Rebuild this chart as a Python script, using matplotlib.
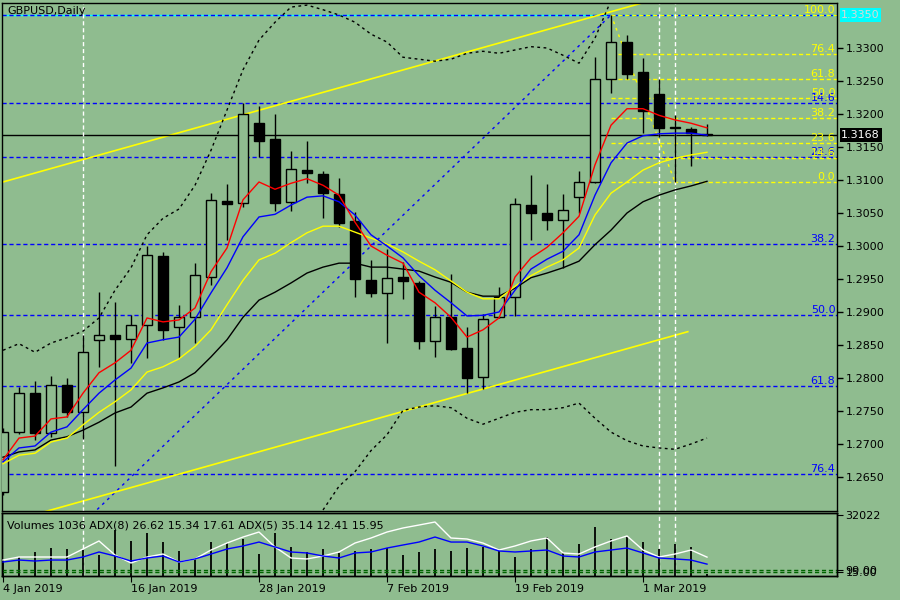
import numpy as np
import matplotlib.pyplot as plt
from matplotlib.transforms import blended_transform_factory

bg = '#8fbc8f'

# GBPUSD daily, 4 Jan 2019 .. 7 Mar 2019
opens = [1.2627, 1.2718, 1.2777, 1.2717, 1.2789, 1.2748, 1.2858, 1.2865, 1.2859, 1.2880,
         1.2985, 1.2877, 1.2892, 1.2953, 1.3068, 1.3065, 1.3186, 1.3162, 1.3067, 1.3115,
         1.3109, 1.3079, 1.3038, 1.2948, 1.2929, 1.2953, 1.2944, 1.2856, 1.2892, 1.2845,
         1.2802, 1.2892, 1.2923, 1.3062, 1.3050, 1.3039, 1.3074, 1.3097, 1.3253, 1.3309,
         1.3264, 1.3230, 1.3179, 1.3177, 1.3170]
highs = [1.2724, 1.2786, 1.2795, 1.2803, 1.2800, 1.2865, 1.2930, 1.2915, 1.2895, 1.3000,
         1.2991, 1.2911, 1.2974, 1.3080, 1.3094, 1.3217, 1.3212, 1.3200, 1.3144, 1.3159,
         1.3114, 1.3103, 1.3052, 1.2979, 1.2995, 1.2976, 1.2947, 1.2909, 1.2958, 1.2877,
         1.2897, 1.2938, 1.3073, 1.3108, 1.3094, 1.3079, 1.3114, 1.3286, 1.3350, 1.3320,
         1.3285, 1.3253, 1.3198, 1.3180, 1.3185]
lows = [1.2623, 1.2715, 1.2706, 1.2711, 1.2741, 1.2708, 1.2817, 1.2667, 1.2823, 1.2830,
        1.2858, 1.2830, 1.2853, 1.2941, 1.3009, 1.3059, 1.3135, 1.3053, 1.3053, 1.3095,
        1.3042, 1.3029, 1.2923, 1.2923, 1.2853, 1.2920, 1.2844, 1.2832, 1.2842, 1.2777,
        1.2783, 1.2891, 1.2894, 1.3009, 1.3024, 1.2967, 1.3050, 1.3095, 1.3232, 1.3253,
        1.3171, 1.3165, 1.3097, 1.3121, 1.3167]
closes = [1.2718, 1.2777, 1.2717, 1.2789, 1.2748, 1.2839, 1.2865, 1.2859, 1.2880, 1.2986,
          1.2873, 1.2892, 1.2956, 1.3070, 1.3064, 1.3200, 1.3159, 1.3065, 1.3117, 1.3111,
          1.3080, 1.3035, 1.2950, 1.2929, 1.2952, 1.2947, 1.2856, 1.2892, 1.2844, 1.2800,
          1.2889, 1.2923, 1.3064, 1.3050, 1.3039, 1.3055, 1.3097, 1.3253, 1.3309, 1.3261,
          1.3205, 1.3179, 1.3180, 1.3171, 1.3168]

# moving averages
ma_red = [1.2676, 1.2709, 1.2712, 1.2738, 1.2741, 1.2777, 1.2808, 1.2823, 1.2842, 1.2891,
          1.2885, 1.2888, 1.2906, 1.2961, 1.2997, 1.3070, 1.3097, 1.3086, 1.3095, 1.3102,
          1.3092, 1.3077, 1.3036, 1.3000, 1.2986, 1.2974, 1.2930, 1.2914, 1.2892, 1.2862,
          1.2873, 1.2891, 1.2953, 1.2982, 1.2998, 1.3020, 1.3045, 1.3123, 1.3183, 1.3208,
          1.3208, 1.3198, 1.3191, 1.3186, 1.3179]
ma_blue = [1.2673, 1.2694, 1.2697, 1.2718, 1.2726, 1.2752, 1.2777, 1.2797, 1.2815, 1.2853,
           1.2858, 1.2862, 1.2889, 1.2929, 1.2967, 1.3014, 1.3044, 1.3048, 1.3062, 1.3074,
           1.3076, 1.3067, 1.3047, 1.3017, 1.3000, 1.2982, 1.2955, 1.2933, 1.2914, 1.2894,
           1.2895, 1.2900, 1.2933, 1.2965, 1.2980, 1.2992, 1.3017, 1.3077, 1.3126, 1.3156,
           1.3167, 1.3170, 1.3171, 1.3171, 1.3168]
ma_yellow = [1.2670, 1.2683, 1.2686, 1.2703, 1.2709, 1.2729, 1.2748, 1.2764, 1.2782, 1.2809,
             1.2817, 1.2829, 1.2848, 1.2873, 1.2911, 1.2948, 1.2979, 1.2989, 1.3005, 1.3020,
             1.3030, 1.3030, 1.3021, 1.3012, 1.3003, 1.2991, 1.2977, 1.2964, 1.2947, 1.2930,
             1.2920, 1.2920, 1.2939, 1.2955, 1.2968, 1.2979, 1.2997, 1.3047, 1.3080, 1.3097,
             1.3115, 1.3126, 1.3133, 1.3138, 1.3142]
ma_black = [1.2680, 1.2688, 1.2691, 1.2706, 1.2711, 1.2721, 1.2733, 1.2747, 1.2756, 1.2777,
            1.2785, 1.2794, 1.2808, 1.2832, 1.2858, 1.2892, 1.2918, 1.2930, 1.2944, 1.2959,
            1.2968, 1.2974, 1.2974, 1.2968, 1.2968, 1.2965, 1.2962, 1.2953, 1.2945, 1.2930,
            1.2924, 1.2924, 1.2936, 1.2952, 1.2959, 1.2967, 1.2977, 1.3002, 1.3024, 1.3050,
            1.3067, 1.3077, 1.3085, 1.3091, 1.3098]

# bollinger bands (parts off the chart are left out)
nan = np.nan
bb_upper = [1.2842, 1.2852, 1.2839, 1.2853, 1.2861, 1.2871, 1.2891, 1.2933, 1.2967, 1.3017,
            1.3042, 1.3056, 1.3092, 1.3145, 1.3206, 1.3267, 1.3312, 1.3339, 1.3362, 1.3365,
            1.3358, 1.3350, 1.3339, 1.3321, 1.3309, 1.3286, 1.3283, 1.3280, 1.3283, 1.3292,
            1.3295, 1.3292, 1.3297, 1.3302, 1.3300, 1.3289, 1.3277, 1.3315, 1.3372, 1.3395,
            1.3405, 1.3410, 1.3412, 1.3410, 1.3405]
bb_lower = [nan] * 18 + [1.2530, 1.2562,
            1.2600, 1.2636, 1.2658, 1.2690, 1.2714, 1.2751, 1.2756, 1.2758, 1.2755, 1.2739,
            1.2730, 1.2739, 1.2748, 1.2752, 1.2752, 1.2755, 1.2762, 1.2739, 1.2718, 1.2705,
            1.2697, 1.2694, 1.2692, 1.2700, 1.2709]

# volumes + two ADX lines of the lower window
volumes = [8400, 9975, 12600, 14700, 14175, 13650, 11025, 24150, 18375, 22575,
           17850, 13125, 8925, 17850, 17325, 19425, 11550, 22575, 15225, 12600,
           14175, 12075, 13125, 14175, 14700, 11025, 12600, 14175, 13125, 14700,
           15225, 13125, 9975, 14175, 20475, 12075, 16800, 25725, 19425, 20475,
           17850, 14175, 16800, 15225, 1036]
adx5 = [31.6, 35.3, 35.3, 35.3, 35.3, 45.0, 54.8, 37.7, 28.0, 35.3,
        38.9, 29.2, 32.9, 43.8, 52.3, 59.6, 65.7, 47.5, 34.1, 32.9,
        36.5, 41.4, 52.3, 58.4, 65.7, 70.6, 74.2, 77.9, 58.4, 57.2,
        52.3, 43.8, 48.7, 54.8, 58.4, 40.2, 38.9, 47.5, 54.8, 60.9,
        43.8, 35.3, 38.9, 43.8, 35.14]
adx8 = [29.2, 31.6, 30.4, 31.6, 31.6, 35.3, 41.4, 36.5, 30.4, 34.1,
        36.5, 29.2, 32.9, 38.9, 45.0, 48.7, 53.5, 47.5, 41.4, 40.2,
        36.5, 34.1, 40.2, 41.4, 46.2, 49.9, 53.5, 59.6, 53.5, 53.5,
        48.7, 42.6, 41.4, 42.6, 43.8, 36.5, 35.3, 41.4, 43.8, 46.2,
        40.2, 34.1, 32.9, 31.6, 26.62]
adx_levels = [20, 16.5]
adx_level_labels = ['99.00', '15.00']

date_bars = [0, 8, 16, 24, 32, 40]
date_labels = ['4 Jan 2019', '16 Jan 2019', '28 Jan 2019', '7 Feb 2019', '19 Feb 2019', '1 Mar 2019']
separators = [5, 41, 42]

fib_levels = [0.0, 14.6, 23.6, 38.2, 50.0, 61.8, 76.4, 100.0]
# blue fibo: 3 Jan low -> 26 Feb high ; yellow fibo: 26 Feb high -> 5 Mar low
fib_blue = (-1, 1.2440, 38, 1.3350)
fib_yellow = (38, 1.3350, 42, 1.3097)
# yellow channel, two points per line
chan_top = (0, 1.3097, 38, 1.3355)
chan_bot = (5, 1.26136, 29, 1.27765)
last_price = 1.3168
hline_price = 1.3350

o = np.array(opens); h = np.array(highs); l = np.array(lows); c = np.array(closes)
bars = np.arange(len(o))

fig = plt.figure(figsize=(9, 6), dpi=100, facecolor=bg)
ax = fig.add_axes([2/900, 89/600, 835/900, 508/600], facecolor=bg)
axv = fig.add_axes([2/900, 24/600, 835/900, 63/600], facecolor=bg)

x0, x1 = -0.0625, 52.125
ax.set_xlim(x0, x1)
ax.set_ylim(1.259848, 1.336818)

dash = (0, (3, 2))
# fibo levels
for lv in fib_levels:
    p = fib_blue[3] - lv / 100 * (fib_blue[3] - fib_blue[1])
    if lv == 0.0:
        ax.axhline(p, color='cyan', lw=1, zorder=1)
    ax.plot([x0, x1], [p, p], color='#0000ff', ls=dash, lw=1, zorder=1)
    if 0 < lv < 100:
        ax.text(0.998, p, f'{lv:.1f}', color='#0000ff', fontsize=8, ha='right', va='bottom',
                transform=blended_transform_factory(ax.transAxes, ax.transData))
ax.plot([fib_blue[0], fib_blue[2]], [fib_blue[1], fib_blue[3]], color='#0000ff', ls=(0, (2, 3)), lw=1)

for lv in fib_levels:
    p = fib_yellow[3] + lv / 100 * (fib_yellow[1] - fib_yellow[3])
    ax.plot([fib_yellow[0], x1], [p, p], color='yellow', ls=dash, lw=1, zorder=1.5)
    ax.text(0.998, p, f'{lv:.1f}', color='yellow', fontsize=8, ha='right', va='bottom',
            transform=blended_transform_factory(ax.transAxes, ax.transData))
ax.plot([fib_yellow[0], fib_yellow[2]], [fib_yellow[1], fib_yellow[3]], color='yellow', ls=(0, (2, 3)), lw=1)

# channel
for b0, p0, b1, p1 in [chan_top, chan_bot]:
    k = (p1 - p0) / (b1 - b0)
    xs = np.array([-1, 42.8])
    ax.plot(xs, p0 + k * (xs - b0), color='yellow', lw=1.2, zorder=2)

ax.axhline(last_price, color='black', lw=1, zorder=2)
for b in separators:
    ax.axvline(b, color='white', ls=dash, lw=1, zorder=2)
    axv.axvline(b, color='white', ls=dash, lw=1, zorder=2)

ax.plot(bars, bb_upper, color='black', ls=(0, (2, 2.5)), lw=1, zorder=2)
ax.plot(bars, bb_lower, color='black', ls=(0, (2, 2.5)), lw=1, zorder=2)

# candles
ax.vlines(bars, l, h, color='black', lw=1, zorder=3)
up = c >= o
ax.bar(bars[up], (c - o)[up], bottom=o[up], width=0.625, facecolor=bg, edgecolor='black', lw=1, zorder=4)
ax.bar(bars[~up], (o - c)[~up], bottom=c[~up], width=0.625, color='black', edgecolor='black', lw=1, zorder=4)

ax.plot(bars, ma_black, color='black', lw=1, zorder=5)
ax.plot(bars, ma_yellow, color='yellow', lw=1, zorder=5)
ax.plot(bars, ma_blue, color='#0000ff', lw=1, zorder=5)
ax.plot(bars, ma_red, color='red', lw=1, zorder=5)

ax.set_xticks([])
ax.yaxis.tick_right()
ax.set_yticks(np.arange(1.2650, 1.33001, 0.005))
ax.yaxis.set_major_formatter(plt.FormatStrFormatter('%.4f'))
ax.tick_params(axis='y', direction='out', length=4, width=1, pad=2, labelsize=8, colors='black')
tr = blended_transform_factory(ax.transAxes, ax.transData)
ax.text(1.005, hline_price, f'{hline_price:.4f}', transform=tr, fontsize=8, color='#d8d8d8', va='center',
        ha='left', bbox=dict(boxstyle='square,pad=0.15', fc='cyan', ec='none'), clip_on=False, zorder=10)
ax.text(1.005, last_price, f'{last_price:.4f}', transform=tr, fontsize=8, color='white', va='center',
        ha='left', bbox=dict(boxstyle='square,pad=0.15', fc='black', ec='none'), clip_on=False, zorder=10)
ax.text(0.007, 0.994, 'GBPUSD,Daily', transform=ax.transAxes, fontsize=8, va='top', ha='left')

# lower window
axv.set_xlim(x0, x1)
axv.set_ylim(0, 33075)
axv.vlines(bars, 0, volumes, color='black', lw=1.3, zorder=3)
axa = axv.twinx()
axa.set_ylim(12.17, 88.84)
axa.plot(bars, adx5, color='white', lw=1, zorder=4)
axa.plot(bars, adx8, color='#0000ff', lw=1, zorder=4)
for lv in adx_levels:
    axa.axhline(lv, color='#006400', ls=dash, lw=1)
axa.set_yticks(adx_levels)
axa.set_yticklabels(adx_level_labels)
axa.tick_params(axis='y', direction='out', length=4, pad=2, labelsize=8)
axv.yaxis.tick_right()
axv.set_yticks([32022])
axv.set_yticklabels(['32022'])
axv.tick_params(axis='y', direction='out', length=4, pad=2, labelsize=8)
axv.set_xticks(date_bars)
axv.set_xticklabels(date_labels, ha='left')
axv.tick_params(axis='x', direction='out', length=4, pad=2, labelsize=8)
axv.text(0.006, 0.88, 'Volumes 1036 ADX(8) 26.62 15.34 17.61 ADX(5) 35.14 12.41 15.95',
         transform=axv.transAxes, fontsize=8, va='top', ha='left', zorder=6)

for a in (ax, axv, axa):
    for s in a.spines.values():
        s.set_linewidth(1)

fig.savefig('out.png', dpi=100, facecolor=bg)
